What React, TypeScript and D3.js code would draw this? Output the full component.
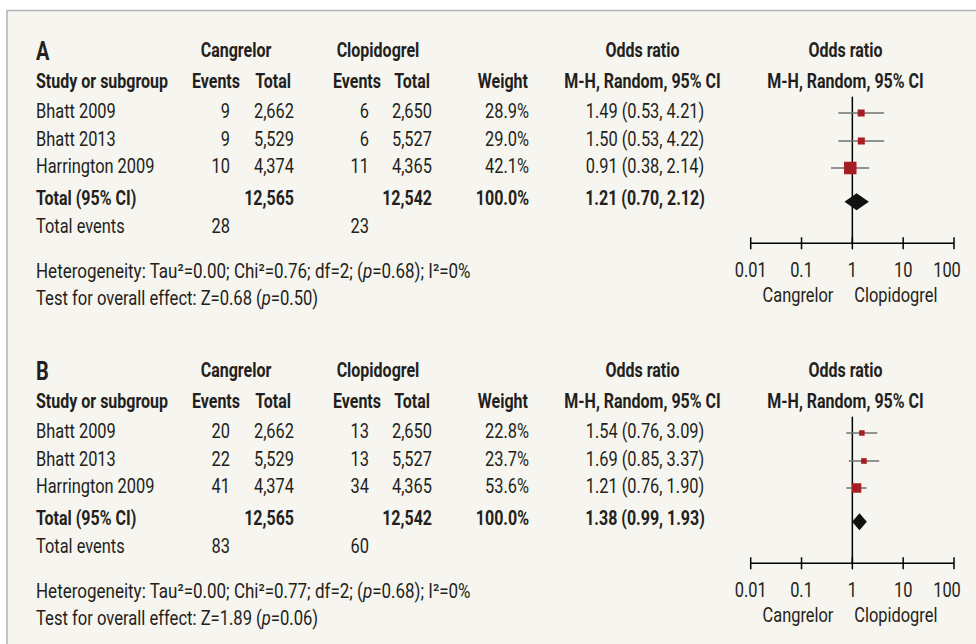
import React from "react";
import * as d3 from "d3";

// ---------- data ----------
const studies = ["Bhatt 2009", "Bhatt 2013", "Harrington 2009"];
const cangTotals = [2662, 5529, 4374];
const clopTotals = [2650, 5527, 4365];
const cangTotalAll = 12565;
const clopTotalAll = 12542;

const cangEventsA = [9, 9, 10];
const clopEventsA = [6, 6, 11];
const weightsA = [28.9, 29.0, 42.1];
const orA = [1.49, 1.5, 0.91];
const loA = [0.53, 0.53, 0.38];
const hiA = [4.21, 4.22, 2.14];
const totalA = [1.21, 0.7, 2.12];
const totalEventsA = [28, 23];
const hetA = ["0.00", "0.76", "2", "0.68", "0"];
const effectA = ["0.68", "0.50"];

const cangEventsB = [20, 22, 41];
const clopEventsB = [13, 13, 34];
const weightsB = [22.8, 23.7, 53.6];
const orB = [1.54, 1.69, 1.21];
const loB = [0.76, 0.85, 0.76];
const hiB = [3.09, 3.37, 1.9];
const totalB = [1.38, 0.99, 1.93];
const totalEventsB = [83, 60];
const hetB = ["0.00", "0.77", "2", "0.68", "0"];
const effectB = ["1.89", "0.06"];

const axisTicks = [0.01, 0.1, 1, 10, 100];
const axisTickLabels = ["0.01", "0.1", "1", "10", "100"];

// ---------- styles ----------
const FONT = "Roboto, 'Liberation Sans', sans-serif";
const INK = "#231f20";
const RED = "#a61d24";
const BG = "#f6f5ef";
const SX = 0.8; // horizontal condensing of the text
const FS = 20.5;
const FSB = 20;

const panels = [
  {
    label: "A", y0: 0, cE: cangEventsA, kE: clopEventsA, w: weightsA, or: orA, lo: loA, hi: hiA,
    total: totalA, tev: totalEventsA, het: hetA, eff: effectA, sizes: [7, 12.5],
  },
  {
    label: "B", y0: 320, cE: cangEventsB, kE: clopEventsB, w: weightsB, or: orB, lo: loB, hi: hiB,
    total: totalB, tev: totalEventsB, het: hetB, eff: effectB, sizes: [5.5, 9.5],
  },
];

const x = d3.scaleLog().domain([0.01, 100]).range([750.7, 954]);
const fmtInt = d3.format(",");
const fmt2 = d3.format(".2f");
const fmt1 = d3.format(".1f");

function T({ x, y, anchor = "start", bold = false, size, sx = SX, children }: any) {
  return (
    <text
      transform={`translate(${x},${y}) scale(${sx},1)`}
      textAnchor={anchor}
      fontWeight={bold ? 700 : 400}
      fontSize={size ?? (bold ? FSB : FS)}
    >
      {children}
    </text>
  );
}

function Panel({ p }: { p: any }) {
  const y = (v: number) => v + p.y0;
  const rowY = [118, 146, 173];
  const sizeScale = d3.scaleLinear().domain(d3.extent(p.w) as [number, number]).range(p.sizes);
  const ciText = (o: number, l: number, h: number) => `${fmt2(o)} (${fmt2(l)}, ${fmt2(h)})`;
  const axisY = y(243.3);
  return (
    <g fontFamily={FONT} fill={INK}>
      {/* header row 1 */}
      <T x={36} y={y(60)} size={25} bold>{p.label}</T>
      <T x={236} y={y(57)} anchor="middle" bold>Cangrelor</T>
      <T x={378} y={y(57)} anchor="middle" bold>Clopidogrel</T>
      <T x={642.5} y={y(57)} anchor="middle" bold>Odds ratio</T>
      <T x={845.5} y={y(57)} anchor="middle" bold>Odds ratio</T>
      {/* header row 2 */}
      <T x={36} y={y(88)} bold>Study or subgroup</T>
      <T x={240} y={y(88)} anchor="end" bold>Events</T>
      <T x={291} y={y(88)} anchor="end" bold>Total</T>
      <T x={381} y={y(88)} anchor="end" bold>Events</T>
      <T x={430} y={y(88)} anchor="end" bold>Total</T>
      <T x={528} y={y(88)} anchor="end" bold>Weight</T>
      <T x={642.5} y={y(88)} anchor="middle" bold>M-H, Random, 95% CI</T>
      <T x={845.5} y={y(88)} anchor="middle" bold>M-H, Random, 95% CI</T>
      {/* study rows */}
      {studies.map((s, i) => (
        <g key={s}>
          <T x={36} y={y(rowY[i])}>{s}</T>
          <T x={230} y={y(rowY[i])} anchor="end">{p.cE[i]}</T>
          <T x={294} y={y(rowY[i])} anchor="end">{fmtInt(cangTotals[i])}</T>
          <T x={369} y={y(rowY[i])} anchor="end">{p.kE[i]}</T>
          <T x={432} y={y(rowY[i])} anchor="end">{fmtInt(clopTotals[i])}</T>
          <T x={529} y={y(rowY[i])} anchor="end">{fmt1(p.w[i])}%</T>
          <T x={645} y={y(rowY[i])} anchor="middle">{ciText(p.or[i], p.lo[i], p.hi[i])}</T>
        </g>
      ))}
      {/* total row */}
      <T x={36} y={y(205)} bold>Total (95% CI)</T>
      <T x={294} y={y(205)} anchor="end" bold>{fmtInt(cangTotalAll)}</T>
      <T x={432} y={y(205)} anchor="end" bold>{fmtInt(clopTotalAll)}</T>
      <T x={529} y={y(205)} anchor="end" bold>100.0%</T>
      <T x={645} y={y(205)} anchor="middle" bold>{ciText(p.total[0], p.total[1], p.total[2])}</T>
      {/* total events */}
      <T x={36} y={y(233)}>Total events</T>
      <T x={230} y={y(233)} anchor="end">{p.tev[0]}</T>
      <T x={369} y={y(233)} anchor="end">{p.tev[1]}</T>
      {/* heterogeneity */}
      <T x={36} y={y(278)} size={20} sx={0.85}>
        {`Heterogeneity: Tau²=${p.het[0]}; Chi²=${p.het[1]}; df=${p.het[2]}; (`}
        <tspan fontStyle="italic">p</tspan>
        {`=${p.het[3]}); I²=${p.het[4]}%`}
      </T>
      <T x={36} y={y(305)} size={20} sx={0.83}>
        {`Test for overall effect: Z=${p.eff[0]} (`}
        <tspan fontStyle="italic">p</tspan>
        {`=${p.eff[1]})`}
      </T>

      {/* forest plot */}
      <line x1={x(1)} x2={x(1)} y1={y(96.7)} y2={axisY} stroke="#000" strokeWidth={1.5} />
      {studies.map((s, i) => {
        const cy = y(rowY[i] - 5);
        const side = sizeScale(p.w[i]);
        return (
          <g key={"f" + s}>
            <line x1={x(p.lo[i])} x2={x(p.hi[i])} y1={cy} y2={cy} stroke="#707070" strokeWidth={1.5} />
            <rect x={x(p.or[i]) - side / 2} y={cy - side / 2} width={side} height={side} fill={RED} />
          </g>
        );
      })}
      {(() => {
        const cy = y(201.7);
        const h = 8.5;
        const pts = [
          [x(p.total[1]), cy], [x(p.total[0]), cy - h], [x(p.total[2]), cy], [x(p.total[0]), cy + h],
        ];
        return <path d={(d3.line()(pts as any) as string) + "Z"} fill="#111" />;
      })()}
      {/* axis */}
      <line x1={x(0.01)} x2={x(100)} y1={axisY} y2={axisY} stroke="#000" strokeWidth={1.5} />
      {axisTicks.map((t, i) => (
        <g key={"t" + t}>
          <line x1={x(t)} x2={x(t)} y1={axisY - 6} y2={axisY + 6} stroke="#000" strokeWidth={1.5} />
          <T x={x(t) + (i === axisTicks.length - 1 ? -7 : 0)} y={y(276.7)} anchor="middle">
            {axisTickLabels[i]}
          </T>
        </g>
      ))}
      <T x={x(1) - 19} y={y(301.7)} anchor="end">Cangrelor</T>
      <T x={x(1) + 2} y={y(301.7)}>Clopidogrel</T>
    </g>
  );
}

export default function App() {
  return (
    <svg
      width={976}
      height={644}
      style={{ position: "absolute", left: 0, top: 0, display: "block" }}
    >
      <rect x={0} y={0} width={976} height={644} fill="#ffffff" />
      <rect x={7} y={10.5} width={990} height={660} fill={BG} stroke="#b4b4b4" strokeWidth={1.5} />
      {panels.map((p) => (
        <Panel key={p.label} p={p} />
      ))}
    </svg>
  );
}
